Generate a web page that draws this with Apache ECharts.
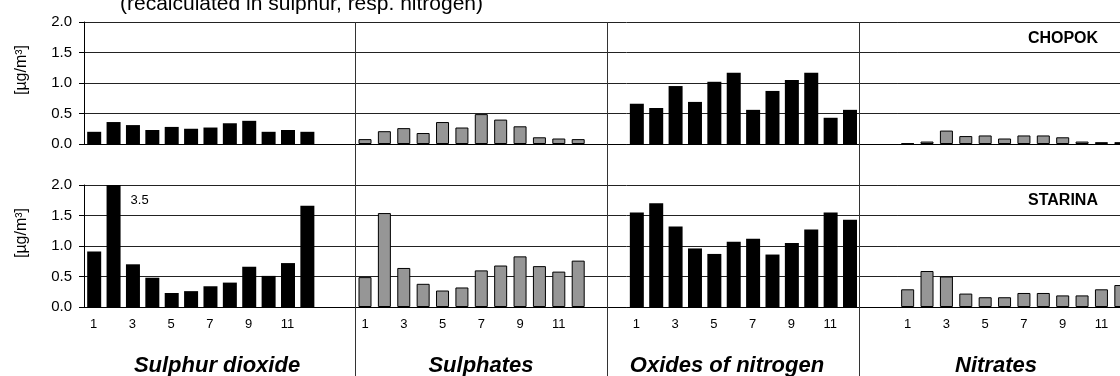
<!DOCTYPE html>
<html><head><meta charset="utf-8">
<script src="https://cdn.jsdelivr.net/npm/echarts@6/dist/echarts.min.js"></script>
<style>html,body{margin:0;padding:0;background:#fff;overflow:hidden}#c{width:1200px;height:376px}</style>
</head><body><div id="c"></div>
<script>
// ---- data ----
const monthLabels = ['1','','3','','5','','7','','9','','11',''];
const sectionNames = ['Sulphur dioxide','Sulphates','Oxides of nitrogen','Nitrates'];
const stationNames = ['CHOPOK','STARINA'];
const unitName = '[µg/m³]';
const titleText = '(recalculated in sulphur, resp. nitrogen)';

const chopokSO2  = [0.20,0.36,0.31,0.23,0.28,0.25,0.27,0.34,0.38,0.20,0.23,0.20];
const chopokSO4  = [0.08,0.21,0.26,0.18,0.36,0.27,0.49,0.40,0.29,0.11,0.09,0.08];
const chopokNOx  = [0.66,0.59,0.95,0.69,1.02,1.17,0.56,0.87,1.05,1.17,0.43,0.56];
const chopokNO3  = [0.01,0.04,0.22,0.13,0.14,0.09,0.14,0.14,0.11,0.04,0.03,0.03];
const starinaSO2 = [0.91,3.5,0.70,0.48,0.23,0.26,0.34,0.40,0.66,0.51,0.72,1.66];
const starinaSO4 = [0.49,1.54,0.64,0.38,0.27,0.32,0.60,0.68,0.83,0.67,0.58,0.76];
const starinaNOx = [1.55,1.70,1.32,0.96,0.87,1.07,1.12,0.86,1.05,1.27,1.55,1.43];
const starinaNO3 = [0.29,0.59,0.50,0.22,0.16,0.16,0.23,0.23,0.19,0.19,0.29,0.36];

// category slot structure
const sectionStart = [0, 14, 28, 42];
const separatorSlots = [14, 27, 40];
const totalSlots = 56;
const yMax = 2.0;

// ---- build categories ----
const cats = [], labels = [];
for (let i = 0; i < totalSlots; i++) { cats.push('gap' + i); labels.push(''); }
sectionStart.forEach((st, s) => {
  for (let m = 0; m < 12; m++) { cats[st + m] = s + '-' + (m + 1); labels[st + m] = monthLabels[m]; }
});
function fill(arrBySection) {
  const out = new Array(totalSlots).fill(null);
  arrBySection.forEach(([s, arr]) => arr.forEach((v, m) => {
    out[sectionStart[s] + m] = v > yMax
      ? { value: v, label: { show: true, position: [24, 9], formatter: '{c}', fontSize: 13, color: '#000', fontFamily: 'Liberation Sans' } }
      : v;
  }));
  return out;
}
const panels = [
  { black: fill([[0, chopokSO2], [2, chopokNOx]]), gray: fill([[1, chopokSO4], [3, chopokNO3]]) },
  { black: fill([[0, starinaSO2], [2, starinaNOx]]), gray: fill([[1, starinaSO4], [3, starinaNO3]]) }
];

const FONT = 'Liberation Sans';
const slotW = 19.38;
const grids = [
  { left: 84, top: 22, height: 122, width: totalSlots * slotW },
  { left: 84, top: 185, height: 122, width: totalSlots * slotW }
];

const chart = echarts.init(document.getElementById('c'), null, { renderer: 'canvas' });
const option = {
  animation: false,
  backgroundColor: '#fff',
  textStyle: { fontFamily: FONT },
  grid: grids,
  xAxis: grids.map((g, i) => ({
    type: 'category', gridIndex: i, data: cats, boundaryGap: true,
    axisTick: { show: false },
    axisLine: { show: true, lineStyle: { color: '#000', width: 1 } },
    axisLabel: {
      show: i === 1, interval: 0, margin: 11, fontSize: 13, color: '#000', fontFamily: FONT,
      formatter: (v, idx) => labels[idx]
    },
    splitLine: { show: false }
  })),
  yAxis: grids.map((g, i) => ({
    type: 'value', gridIndex: i, min: 0, max: yMax, interval: 0.5,
    axisLine: { show: true, lineStyle: { color: '#000', width: 1 } },
    axisTick: { show: true, length: 5, lineStyle: { color: '#000' } },
    axisLabel: { fontSize: 15, color: '#000', margin: 12, fontFamily: FONT, formatter: v => v.toFixed(1) },
    splitLine: { show: true, lineStyle: { color: '#222', width: 1 } }
  })),
  series: panels.flatMap((p, i) => [
    { type: 'bar', xAxisIndex: i, yAxisIndex: i, data: p.black, barWidth: 14, barGap: '-100%',
      itemStyle: { color: '#000' }, clip: true },
    { type: 'bar', xAxisIndex: i, yAxisIndex: i, data: p.gray, barWidth: 13, barGap: '-100%',
      itemStyle: { color: '#969696', borderColor: '#000', borderWidth: 1 }, clip: true }
  ]),
  graphic: [
    { type: 'text', left: 120, top: -6, style: { text: titleText, font: '21px "Liberation Sans"', fill: '#000' } },
    { type: 'text', x: 22, y: 70, rotation: Math.PI / 2,
      style: { text: unitName, font: '16px "Liberation Sans"', fill: '#000', align: 'center', verticalAlign: 'middle' } },
    { type: 'text', x: 22, y: 233, rotation: Math.PI / 2,
      style: { text: unitName, font: '16px "Liberation Sans"', fill: '#000', align: 'center', verticalAlign: 'middle' } },
    { type: 'text', x: 1063, y: 39,
      style: { text: stationNames[0], font: 'bold 16px "Liberation Sans"', fill: '#000', align: 'center', verticalAlign: 'middle' } },
    { type: 'text', x: 1063, y: 201,
      style: { text: stationNames[1], font: 'bold 16px "Liberation Sans"', fill: '#000', align: 'center', verticalAlign: 'middle' } }
  ].concat(sectionNames.map((n, s) => ({
    type: 'text', x: [217, 481, 727, 996][s], y: 366,
    style: { text: n, font: 'italic bold 22px "Liberation Sans"', fill: '#000', align: 'center', verticalAlign: 'middle' }
  })))
};
chart.setOption(option);

// separators between pollutant sections, placed from the axis scale
const yTop = chart.convertToPixel({ yAxisIndex: 0 }, yMax);
const seps = separatorSlots.map(k => {
  const a = chart.convertToPixel({ xAxisIndex: 0 }, cats[k - 1]);
  const b = chart.convertToPixel({ xAxisIndex: 0 }, cats[k]);
  const x = Math.floor((a + b) / 2) + 0.5;
  return { type: 'line', shape: { x1: x, y1: yTop, x2: x, y2: 376 }, style: { stroke: '#333', lineWidth: 1 }, z: 10 };
});
chart.setOption({ graphic: option.graphic.concat(seps) });
</script>
</body></html>
